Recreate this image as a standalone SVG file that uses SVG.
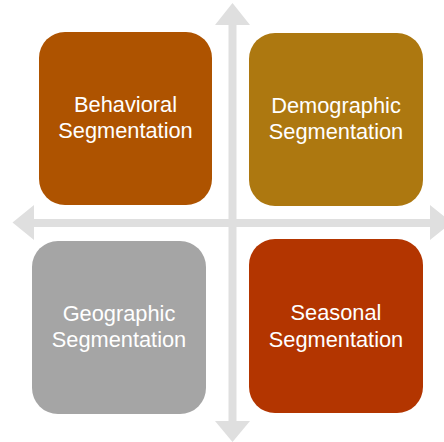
<svg xmlns="http://www.w3.org/2000/svg" width="444" height="442" viewBox="0 0 444 442">
  <style>
    .arrow { fill: #DFDFDF; }
    .box { stroke: none; }
    .label { font-family: "Liberation Sans", Arial, sans-serif; font-size: 21.8px; fill: #FFFFFF; text-anchor: middle; }
  </style>
  <rect x="0" y="0" width="444" height="442" fill="#FFFFFF"/>
  <g id="connectors">
    <polygon class="arrow" points="232.5,3 250,25 236.5,25 236.5,421 250,421 232.5,442 215,421 228.5,421 228.5,25 215,25"/>
    <polygon class="arrow" points="12.5,222.5 34,205 34,219 430,219 430,205 452,222.5 430,240 430,227 34,227 34,240"/>
  </g>
  <g id="behavioral">
    <rect class="box" x="39" y="32" width="173" height="173" rx="26" ry="26" fill="#AE5300"/>
    <text class="label" x="125.5" y="112">Behavioral</text>
    <text class="label" x="125.5" y="138">Segmentation</text>
  </g>
  <g id="demographic">
    <rect class="box" x="249" y="33" width="174" height="173" rx="26" ry="26" fill="#AD7810"/>
    <text class="label" x="336" y="113">Demographic</text>
    <text class="label" x="336" y="139">Segmentation</text>
  </g>
  <g id="geographic">
    <rect class="box" x="32" y="241" width="174" height="173" rx="26" ry="26" fill="#A5A5A5"/>
    <text class="label" x="119" y="321">Geographic</text>
    <text class="label" x="119" y="347">Segmentation</text>
  </g>
  <g id="seasonal">
    <rect class="box" x="249" y="239" width="174" height="174" rx="26" ry="26" fill="#B33500"/>
    <text class="label" x="336" y="320">Seasonal</text>
    <text class="label" x="336" y="347">Segmentation</text>
  </g>
</svg>
